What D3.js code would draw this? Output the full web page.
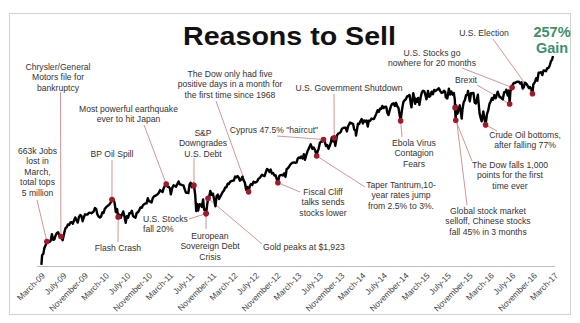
<!DOCTYPE html>
<html><head><meta charset="utf-8">
<script src="https://cdn.jsdelivr.net/npm/d3@7"></script>
<style>
html,body{margin:0;padding:0;background:#fff;}
svg{display:block;font-family:"Liberation Sans",Arial,sans-serif;}
</style></head>
<body><svg id="c" width="580" height="323"></svg>
<script>
// ---------- DATA ----------
const spx = [
["2009-03-09",677],["2009-03-13",756],["2009-03-20",768],["2009-03-26",816],["2009-04-03",843],["2009-04-09",870],["2009-04-17",870],["2009-04-24",866],["2009-05-01",878],["2009-05-08",929],["2009-05-15",883],["2009-05-22",887],["2009-05-29",919],["2009-06-05",940],["2009-06-12",946],["2009-06-19",921],["2009-06-28",910],["2009-07-08",880],["2009-07-17",940],["2009-07-24",979],["2009-07-31",987],["2009-08-07",1010],["2009-08-14",1005],["2009-08-21",1026],["2009-08-28",1029],["2009-09-04",1016],["2009-09-11",1042],["2009-09-18",1068],["2009-09-25",1044],["2009-10-02",1025],["2009-10-09",1071],["2009-10-16",1087],["2009-10-23",1080],["2009-10-30",1036],["2009-11-06",1069],["2009-11-13",1093],["2009-11-20",1091],["2009-11-27",1091],["2009-12-04",1105],["2009-12-11",1106],["2009-12-18",1102],["2009-12-31",1115],
["2010-01-08",1145],["2010-01-15",1136],["2010-01-22",1092],["2010-01-29",1074],["2010-02-05",1066],["2010-02-12",1075],["2010-02-19",1109],["2010-02-26",1104],["2010-03-05",1138],["2010-03-12",1150],["2010-03-19",1160],["2010-03-26",1167],["2010-04-02",1178],["2010-04-09",1194],["2010-04-15",1215],["2010-04-23",1217],["2010-04-30",1187],["2010-05-07",1111],["2010-05-14",1136],["2010-05-20",1071],["2010-05-28",1089],["2010-06-04",1064],["2010-06-11",1092],["2010-06-18",1117],["2010-06-25",1076],["2010-07-02",1023],["2010-07-09",1078],["2010-07-16",1065],["2010-07-23",1103],["2010-07-30",1102],["2010-08-06",1122],["2010-08-13",1079],["2010-08-20",1071],["2010-08-27",1065],["2010-09-03",1105],["2010-09-10",1110],["2010-09-17",1126],["2010-09-24",1149],["2010-10-01",1146],["2010-10-08",1166],["2010-10-15",1176],["2010-10-22",1183],["2010-10-29",1183],["2010-11-05",1226],["2010-11-12",1200],["2010-11-19",1199],["2010-11-26",1190],["2010-12-03",1225],["2010-12-10",1240],["2010-12-17",1244],["2010-12-31",1258],
["2011-01-07",1271],["2011-01-14",1293],["2011-01-21",1283],["2011-01-28",1276],["2011-02-04",1310],["2011-02-11",1329],["2011-02-18",1343],["2011-02-25",1320],["2011-03-04",1321],["2011-03-11",1304],["2011-03-16",1257],["2011-03-25",1314],["2011-04-01",1332],["2011-04-08",1328],["2011-04-15",1320],["2011-04-29",1364],["2011-05-06",1340],["2011-05-13",1338],["2011-05-20",1333],["2011-05-27",1331],["2011-06-03",1300],["2011-06-10",1271],["2011-06-17",1271],["2011-06-24",1268],["2011-07-01",1340],["2011-07-07",1353],["2011-07-15",1316],["2011-07-22",1345],["2011-07-26",1331],["2011-08-02",1254],["2011-08-08",1119],["2011-08-12",1179],["2011-08-19",1124],["2011-08-26",1177],["2011-09-02",1174],["2011-09-09",1154],["2011-09-16",1216],["2011-09-22",1129],["2011-09-30",1131],["2011-10-03",1099],["2011-10-14",1225],["2011-10-21",1238],["2011-10-27",1285],["2011-11-04",1253],["2011-11-11",1264],["2011-11-18",1216],["2011-11-25",1159],["2011-12-02",1244],["2011-12-09",1255],["2011-12-16",1219],["2011-12-30",1258],
["2012-01-06",1278],["2012-01-13",1289],["2012-01-20",1315],["2012-01-27",1316],["2012-02-03",1345],["2012-02-10",1343],["2012-02-17",1361],["2012-02-24",1366],["2012-03-02",1370],["2012-03-09",1371],["2012-03-16",1404],["2012-03-23",1397],["2012-03-30",1408],["2012-04-05",1398],["2012-04-13",1370],["2012-04-20",1379],["2012-04-27",1403],["2012-05-04",1370],["2012-05-11",1353],["2012-05-18",1295],["2012-05-25",1318],["2012-06-01",1278],["2012-06-08",1325],["2012-06-15",1343],["2012-06-22",1335],["2012-06-29",1362],["2012-07-06",1354],["2012-07-13",1357],["2012-07-20",1363],["2012-07-27",1386],["2012-08-03",1391],["2012-08-10",1406],["2012-08-17",1418],["2012-08-24",1411],["2012-08-31",1407],["2012-09-07",1438],["2012-09-14",1466],["2012-09-21",1460],["2012-09-28",1441],["2012-10-05",1461],["2012-10-12",1429],["2012-10-19",1433],["2012-10-26",1412],["2012-11-02",1414],["2012-11-09",1380],["2012-11-15",1353],["2012-11-23",1409],["2012-11-30",1416],["2012-12-07",1418],["2012-12-14",1413],["2012-12-21",1430],["2012-12-28",1402],["2012-12-31",1426],
["2013-01-04",1466],["2013-01-11",1472],["2013-01-18",1486],["2013-01-25",1503],["2013-02-01",1513],["2013-02-08",1518],["2013-02-15",1520],["2013-02-22",1516],["2013-03-01",1518],["2013-03-08",1551],["2013-03-15",1561],["2013-03-22",1556],["2013-03-28",1569],["2013-04-05",1553],["2013-04-12",1588],["2013-04-18",1541],["2013-04-26",1582],["2013-05-03",1614],["2013-05-10",1634],["2013-05-21",1669],["2013-05-31",1631],["2013-06-07",1643],["2013-06-14",1626],["2013-06-24",1573],["2013-06-28",1606],["2013-07-05",1632],["2013-07-12",1680],["2013-07-19",1692],["2013-07-26",1692],["2013-08-02",1709],["2013-08-09",1691],["2013-08-16",1655],["2013-08-23",1664],["2013-08-30",1633],["2013-09-06",1655],["2013-09-13",1688],["2013-09-18",1725],["2013-09-27",1692],["2013-10-02",1722],["2013-10-08",1656],["2013-10-18",1744],["2013-10-25",1759],["2013-11-01",1762],["2013-11-08",1771],["2013-11-15",1798],["2013-11-22",1804],["2013-11-29",1806],["2013-12-06",1805],["2013-12-13",1775],["2013-12-20",1818],["2013-12-31",1848],
["2014-01-10",1842],["2014-01-17",1838],["2014-01-24",1790],["2014-01-31",1783],["2014-02-03",1741],["2014-02-14",1838],["2014-02-21",1836],["2014-02-28",1859],["2014-03-07",1878],["2014-03-14",1841],["2014-03-21",1866],["2014-03-28",1857],["2014-04-04",1865],["2014-04-11",1815],["2014-04-17",1864],["2014-04-25",1863],["2014-05-02",1881],["2014-05-09",1878],["2014-05-16",1878],["2014-05-23",1900],["2014-05-30",1924],["2014-06-06",1950],["2014-06-13",1937],["2014-06-20",1963],["2014-06-27",1961],["2014-07-03",1985],["2014-07-11",1968],["2014-07-18",1978],["2014-07-25",1978],["2014-08-01",1925],["2014-08-07",1910],["2014-08-15",1955],["2014-08-22",1988],["2014-08-29",2003],["2014-09-05",2007],["2014-09-12",1985],["2014-09-19",2011],["2014-09-26",1982],["2014-10-03",1968],["2014-10-10",1906],["2014-10-15",1862],["2014-10-24",1965],["2014-10-31",2018],["2014-11-07",2032],["2014-11-14",2040],["2014-11-21",2064],["2014-11-28",2068],["2014-12-05",2075],["2014-12-12",2003],["2014-12-16",1973],["2014-12-26",2089],["2014-12-31",2059],
["2015-01-06",2003],["2015-01-09",2045],["2015-01-16",2019],["2015-01-23",2051],["2015-01-30",1995],["2015-02-06",2055],["2015-02-13",2097],["2015-02-20",2110],["2015-02-27",2105],["2015-03-06",2071],["2015-03-11",2040],["2015-03-20",2108],["2015-03-27",2061],["2015-04-02",2067],["2015-04-10",2102],["2015-04-17",2081],["2015-04-24",2117],["2015-05-01",2108],["2015-05-08",2116],["2015-05-15",2123],["2015-05-21",2131],["2015-05-29",2107],["2015-06-05",2092],["2015-06-12",2094],["2015-06-19",2110],["2015-06-26",2101],["2015-06-29",2058],["2015-07-08",2046],["2015-07-17",2127],["2015-07-24",2079],["2015-07-31",2104],["2015-08-07",2078],["2015-08-14",2092],["2015-08-20",2035],["2015-08-21",1971],["2015-08-25",1867],["2015-08-28",1989],["2015-09-04",1921],["2015-09-11",1961],["2015-09-17",1990],["2015-09-28",1881],["2015-10-02",1951],["2015-10-09",2014],["2015-10-16",2033],["2015-10-23",2075],["2015-10-30",2079],["2015-11-03",2109],["2015-11-13",2023],["2015-11-20",2089],["2015-11-27",2090],["2015-12-04",2092],["2015-12-11",2012],["2015-12-18",2006],["2015-12-29",2078],["2015-12-31",2044],
["2016-01-08",1922],["2016-01-15",1880],["2016-01-20",1859],["2016-01-29",1940],["2016-02-05",1880],["2016-02-11",1829],["2016-02-19",1918],["2016-02-26",1948],["2016-03-04",2000],["2016-03-11",2022],["2016-03-18",2050],["2016-03-24",2036],["2016-04-01",2073],["2016-04-08",2048],["2016-04-20",2102],["2016-04-29",2065],["2016-05-06",2057],["2016-05-13",2047],["2016-05-19",2040],["2016-05-27",2099],["2016-06-03",2099],["2016-06-08",2119],["2016-06-16",2071],["2016-06-23",2113],["2016-06-27",2001],["2016-07-01",2103],["2016-07-08",2130],["2016-07-11",2137],["2016-07-15",2162],["2016-07-22",2175],["2016-07-29",2174],["2016-08-05",2183],["2016-08-12",2184],["2016-08-19",2184],["2016-08-26",2169],["2016-09-02",2180],["2016-09-09",2128],["2016-09-16",2139],["2016-09-22",2177],["2016-09-30",2168],["2016-10-07",2153],["2016-10-14",2133],["2016-10-21",2141],["2016-10-28",2126],["2016-11-04",2085],["2016-11-09",2163],["2016-11-18",2182],["2016-11-25",2213],["2016-12-02",2192],["2016-12-09",2259],["2016-12-16",2258],["2016-12-23",2263],["2016-12-30",2239],
["2017-01-06",2277],["2017-01-13",2275],["2017-01-20",2271],["2017-01-27",2295],["2017-02-03",2297],["2017-02-10",2316],["2017-02-17",2351],["2017-02-24",2367],["2017-03-01",2396]
];

const tickLabels = ["March-09","July-09","November-09","March-10","July-10","November-10","March-11","July-11","November-11","March-12","July-12","November-12","March-13","July-13","November-13","March-14","July-14","November-14","March-15","July-15","November-15","March-16","July-16","November-16","March-17"];

// event label lines and the date of the marked point on the line
const eventLabels = [
 ["663k Jobs","lost in","March,","total tops","5 million"],
 ["Chrysler/General","Motors file for","bankruptcy"],
 ["BP Oil Spill"],
 ["Flash Crash"],
 ["Most powerful earthquake","ever to hit Japan"],
 ["S&P","Downgrades","U.S. Debt"],
 ["U.S. Stocks","fall 20%"],
 ["European","Sovereign Debt","Crisis"],
 ["The Dow only had five","positive days in a month for","the first time since 1968"],
 ["Fiscal Cliff","talks sends","stocks lower"],
 ["Gold peaks at $1,923"],
 ["Cyprus 47.5% \"haircut\""],
 ["U.S. Government  Shutdown"],
 ["Taper Tantrum,10-","year rates jump","from 2.5% to 3%."],
 ["Ebola Virus","Contagion","Fears"],
 ["U.S. Stocks go","nowhere for 20 months"],
 ["Brexit"],
 ["U.S. Election"],
 ["Crude Oil bottoms,","after falling 77%"],
 ["The Dow falls 1,000","points for the first","time ever"],
 ["Global stock market","selloff, Chinese stocks","fall 45% in 3 months"]
];
const eventDates = ["2009-04-09","2009-06-28","2010-04-15","2010-05-20","2011-02-18","2011-07-26","2011-10-03","2011-10-03","2012-06-01","2012-11-15","2011-10-14","2013-08-02","2013-10-02","2013-06-24","2014-10-15","2016-07-11","2016-06-27","2016-11-04","2016-02-11","2015-08-25","2015-08-21"];

const gainLabel = ["257%","Gain"];
const titleText = "Reasons to Sell";

// ---------- LAYOUT (positions of the text blocks and leader starts) ----------
// [text x, first baseline y, anchor, leader start x, leader start y]
const layout = [
 [37.5,154,"middle",37,200],
 [58,70,"middle",60.5,92],
 [112,157,"middle",112,160],
 [118,251,"middle",118,242],
 [128.5,112,"middle",144,125],
 [203,136,"middle",194,158],
 [143,222,"start",189,219],
 [210,239,"middle",206,229],
 [230,77,"middle",216,101],
 [323,195,"middle",300,192],
 [263,250,"start",262,244],
 [274,133,"middle",277,136],
 [349,91,"middle",334,94],
 [401,188,"middle",365,187],
 [414,146,"middle",402,137],
 [432,56,"middle",462,68],
 [466,83,"middle",477,85],
 [484,36,"middle",493,39],
 [525,138,"middle",497,131],
 [510,168,"middle",472,161],
 [488,214,"middle",467,205]
];

// ---------- CHART ----------
const parse = d3.timeParse("%Y-%m-%d");
const series = spx.map(d => ({date: parse(d[0]), value: d[1]}));
const svg = d3.select("#c");

// frame
svg.append("rect").attr("x",9.5).attr("y",13.5).attr("width",561).attr("height",301)
  .attr("fill","#fff").attr("stroke","#d2d2d2").attr("stroke-width",1);

const x = d3.scaleTime().domain([new Date(2009,2,1), new Date(2017,2,1)]).range([40,553]);
const y = d3.scaleLinear().domain([676,2396]).range([265,56]);

// x axis
const tickParse = d3.timeParse("%B-%y");
const tickDates = tickLabels.map(t => tickParse(t));
const axis = d3.axisBottom(x).tickValues(tickDates).tickSize(0)
  .tickFormat((d,i) => tickLabels[i]);
const gx = svg.append("g").attr("transform","translate(0,266)").call(axis);
gx.select(".domain").attr("stroke","#bdbdbd").attr("stroke-width",1).attr("d","M37,0.5H555");
gx.selectAll("text")
  .attr("x",0).attr("y",0).attr("dy","0.35em")
  .attr("text-anchor","end")
  .attr("transform","translate(3,8) rotate(-45)")
  .attr("fill","#444").style("font-size","8.4px")
  .style("font-family","'Liberation Sans',Arial,sans-serif");

// leaders
const valueAt = ds => { const dt = parse(ds); return series.find(s => +s.date === +dt) || series[d3.bisector(s=>s.date).left(series, dt)]; };
const events = eventLabels.map((lines,i) => {
  const p = valueAt(eventDates[i]);
  return {lines, date: p.date, value: p.value, lay: layout[i]};
});

svg.append("g").selectAll("line").data(events).join("line")
  .attr("x1", d => d.lay[3]).attr("y1", d => d.lay[4])
  .attr("x2", d => x(d.date)).attr("y2", d => y(d.value))
  .attr("stroke","#c98a8a").attr("stroke-width",0.9);

// price line
svg.append("path").datum(series)
  .attr("d", d3.line().x(d => x(d.date)).y(d => y(d.value)))
  .attr("fill","none").attr("stroke","#000").attr("stroke-width",2.4)
  .attr("stroke-linejoin","round");

// markers
svg.append("g").selectAll("circle").data(events).join("circle")
  .attr("cx", d => x(d.date)).attr("cy", d => y(d.value)).attr("r",2.8)
  .attr("fill","#a3182b");

// annotation text
const tg = svg.append("g").style("font-size","8.6px").attr("fill","#333");
events.forEach(e => {
  const t = tg.append("text").attr("text-anchor", e.lay[2]);
  e.lines.forEach((ln,j) => t.append("tspan").attr("x", e.lay[0]).attr("y", e.lay[1] + j*10.4).text(ln));
});

// title
svg.append("text").attr("x",183).attr("y",45).attr("textLength",213).attr("lengthAdjust","spacingAndGlyphs")
  .style("font-size","25px").style("font-weight","bold").attr("fill","#111").text(titleText);

// gain
gainLabel.forEach((g,j) => svg.append("text").attr("text-anchor","middle").attr("fill","#3d8f6c")
  .style("font-weight","bold").style("font-size","14.5px")
  .attr("x",552).attr("y",37 + j*16).text(g));
</script>
</body></html>
